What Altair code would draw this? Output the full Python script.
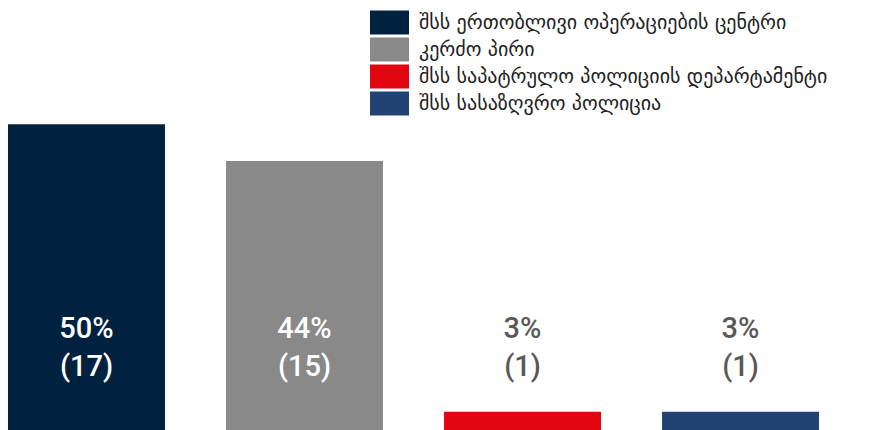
import altair as alt
import pandas as pd

categories = [
    "შსს ერთობლივი ოპერაციების ცენტრი",
    "კერძო პირი",
    "შსს საპატრულო პოლიციის დეპარტამენტი",
    "შსს სასაზღვრო პოლიცია",
]
percents = [50, 44, 3, 3]
counts = [17, 15, 1, 1]
colors = ["#01223f", "#898989", "#e20613", "#224273"]

df = pd.DataFrame({
    "cat": categories,
    "pct": percents,
    "cnt": counts,
})
df["pct_label"] = df["pct"].astype(str) + "%"
df["cnt_label"] = "(" + df["cnt"].astype(str) + ")"

x_enc = alt.X("cat:N", sort=None, axis=None,
              scale=alt.Scale(paddingInner=0.28, paddingOuter=0))

base = alt.Chart(df)

bars = base.mark_bar().encode(
    x=x_enc,
    y=alt.Y("pct:Q", axis=None, scale=alt.Scale(domain=[0, 69], nice=False, zero=True)),
    color=alt.Color(
        "cat:N", sort=None,
        scale=alt.Scale(domain=categories, range=colors),
        legend=alt.Legend(
            title=None, orient="none", legendX=362, legendY=2,
            symbolType="M-1,-0.615H1V0.615H-1Z", symbolSize=1521,
            symbolStrokeWidth=0, symbolOpacity=1,
            clipHeight=25, rowPadding=2, labelOffset=10,
            labelFont="DejaVu Sans", labelFontSize=20, labelColor="#222222",
            labelLimit=600, padding=0,
        ),
    ),
)

label_color = alt.condition(alt.datum.pct > 10, alt.value("white"), alt.value("#595959"))

pct_text = base.mark_text(font="Roboto", fontSize=29, fontWeight=500, baseline="middle").encode(
    x=x_enc, y=alt.value(321), text="pct_label:N", color=label_color,
)
cnt_text = base.mark_text(font="Roboto", fontSize=29, fontWeight=500, baseline="middle").encode(
    x=x_enc, y=alt.value(359), text="cnt_label:N", color=label_color,
)

chart = alt.layer(bars, pct_text, cnt_text).properties(
    width=811, height=422, padding=0,
).configure_view(stroke=None)

chart.save("out.html", embed_options={"renderer": "svg", "actions": False})
